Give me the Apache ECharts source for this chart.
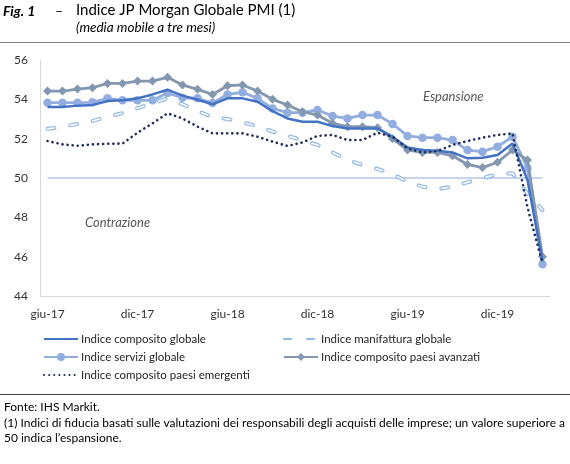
<!DOCTYPE html>
<html><head><meta charset="utf-8">
<script src="https://cdn.jsdelivr.net/npm/echarts@6/dist/echarts.min.js"></script>
<style>html,body{margin:0;padding:0;background:#fff}#c{width:570px;height:464px}</style>
</head><body><div id="c"></div>
<script>
const categories = ['giu-17','lug-17','ago-17','set-17','ott-17','nov-17','dic-17','gen-18','feb-18','mar-18','apr-18','mag-18','giu-18','lug-18','ago-18','set-18','ott-18','nov-18','dic-18','gen-19','feb-19','mar-19','apr-19','mag-19','giu-19','lug-19','ago-19','set-19','ott-19','nov-19','dic-19','gen-20','feb-20','mar-20'];
const compositoGlobale = [53.61,53.61,53.68,53.71,53.91,53.95,54.05,54.25,54.49,54.19,53.98,53.75,54.05,54.05,53.88,53.40,53.03,52.86,52.86,52.64,52.52,52.52,52.52,52.10,51.55,51.42,51.39,51.30,51.00,51.03,51.17,51.76,49.90,45.75];
const manifatturaGlobale = [52.50,52.60,52.75,52.90,53.10,53.30,53.55,53.80,54.05,53.75,53.40,53.10,53.00,52.83,52.64,52.36,52.14,51.93,51.68,51.30,50.92,50.66,50.46,50.20,49.81,49.56,49.44,49.56,49.78,50.00,50.19,50.24,49.20,48.37];
const serviziGlobale = [53.83,53.83,53.83,53.85,54.05,53.95,53.95,53.95,54.32,54.08,54.05,53.81,54.25,54.36,54.05,53.54,53.32,53.32,53.46,53.15,53.03,53.20,53.20,52.75,52.14,52.05,52.05,51.93,51.42,51.34,51.59,52.10,50.50,45.61];
const compositoAvanzati = [54.42,54.42,54.52,54.59,54.81,54.81,54.93,54.93,55.12,54.73,54.51,54.25,54.69,54.73,54.42,54.00,53.71,53.37,53.20,52.78,52.61,52.61,52.56,52.00,51.42,51.30,51.30,51.13,50.69,50.53,50.80,51.42,50.92,46.00];
const compositoEmergenti = [51.88,51.71,51.64,51.71,51.74,51.75,52.30,52.78,53.29,53.03,52.61,52.27,52.27,52.27,52.10,51.85,51.63,51.81,52.14,52.19,51.93,51.93,52.30,52.10,51.50,51.30,51.37,51.68,51.88,52.05,52.19,52.27,48.50,45.65];
const soglia = categories.map(() => 50);
const yTicks = {min: 44, max: 56, interval: 2};

const FONT = 'Lato';
const chart = echarts.init(document.getElementById('c'), null, {renderer: 'canvas'});
function legendAt(name, left, top, hideSymbol) {
  const l = {data: [name], left: left, top: top, padding: 0, itemWidth: 34, itemHeight: 10, itemGap: 0,
    textStyle: {fontFamily: FONT, fontSize: 11.5, color: '#262626', padding: [0, 0, 0, -2]}, selectedMode: false};
  if (hideSymbol) l.itemStyle = {opacity: 0};
  return l;
}
chart.setOption({
  animation: false,
  backgroundColor: '#fff',
  grid: {left: 40, right: 20, top: 60, bottom: 168, containLabel: false},
  xAxis: {
    type: 'category', data: categories, boundaryGap: true,
    axisLine: {lineStyle: {color: '#d9d9d9', width: 1}},
    axisTick: {interval: 5, length: 5, lineStyle: {color: '#d9d9d9'}},
    axisLabel: {interval: 5, margin: 12, fontFamily: FONT, fontSize: 12, color: '#333'}
  },
  yAxis: {
    type: 'value', min: yTicks.min, max: yTicks.max, interval: yTicks.interval,
    axisLine: {show: true, lineStyle: {color: '#d9d9d9'}},
    axisTick: {show: false}, splitLine: {show: false},
    axisLabel: {margin: 12, fontFamily: FONT, fontSize: 12, color: '#333'}
  },
  legend: [
    legendAt('Indice composito globale', 43, 333, true),
    legendAt('Indice manifattura globale', 283, 333, true),
    legendAt('Indice servizi globale', 43, 351, false),
    legendAt('Indice composito paesi avanzati', 283, 351, false),
    legendAt('Indice composito paesi emergenti', 43, 369, true)
  ],
  series: [
    {name: 'soglia', type: 'line', data: soglia, symbol: 'none', silent: true, z: 1,
      lineStyle: {color: '#b4c7e7', width: 1.5}},
    {name: 'Indice manifattura globale', type: 'line', data: manifatturaGlobale, symbol: 'none', z: 2,
      lineStyle: {color: '#8fb8e6', width: 4, type: [7, 16], cap: 'round'}, itemStyle: {color: '#8fb8e6'}},
    {name: 'manifattura-interno', type: 'line', data: manifatturaGlobale, symbol: 'none', z: 3, silent: true,
      lineStyle: {color: '#ffffff', width: 1.6, type: [7, 16], cap: 'round'}},
    {name: 'Indice servizi globale', type: 'line', data: serviziGlobale, symbol: 'circle', symbolSize: 8.5, z: 4,
      lineStyle: {color: '#92aee0', width: 2.8}, itemStyle: {color: '#92aee0'}},
    {name: 'Indice composito paesi avanzati', type: 'line', data: compositoAvanzati, symbol: 'diamond', symbolSize: 9, z: 5,
      lineStyle: {color: '#8497b0', width: 2.8}, itemStyle: {color: '#8497b0'}},
    {name: 'Indice composito globale', type: 'line', data: compositoGlobale, symbol: 'none', z: 6,
      lineStyle: {color: '#4472c4', width: 2.5}, itemStyle: {color: '#4472c4'}},
    {name: 'Indice composito paesi emergenti', type: 'line', data: compositoEmergenti, symbol: 'none', z: 7,
      lineStyle: {color: '#1f2d5c', width: 2.6, type: [0.1, 5], cap: 'round'}, itemStyle: {color: '#1f2d5c'}}
  ],
  graphic: [
    {type: 'text', left: 3, top: 4, style: {text: 'Fig. 1', font: 'italic bold 14px ' + FONT, fill: '#000'}},
    {type: 'text', left: 55, top: 4, style: {text: '–', font: '14px ' + FONT, fill: '#000'}},
    {type: 'text', left: 76, top: 3, style: {text: 'Indice JP Morgan Globale PMI (1)', font: '15px ' + FONT, fill: '#000'}},
    {type: 'text', left: 76, top: 21, style: {text: '(media mobile a tre mesi)', font: 'italic 13.5px ' + FONT, fill: '#000'}},
    {type: 'line', shape: {x1: 0, y1: 42.5, x2: 570, y2: 42.5}, style: {stroke: '#7f7f7f', lineWidth: 1}},
    {type: 'text', left: 423, top: 90, style: {text: 'Espansione', font: 'italic 13px ' + FONT, fill: '#595959'}},
    {type: 'text', left: 85, top: 216, style: {text: 'Contrazione', font: 'italic 13px ' + FONT, fill: '#595959'}},
    {type: 'line', shape: {x1: 0, y1: 394.5, x2: 570, y2: 394.5}, style: {stroke: '#404040', lineWidth: 1}},
    {type: 'text', left: 4, top: 401, style: {text: 'Fonte: IHS Markit.', font: '12px ' + FONT, fill: '#000'}},
    {type: 'text', left: 4, top: 417, style: {text: '(1) Indici di fiducia basati sulle valutazioni dei responsabili degli acquisti delle imprese; un valore superiore a', font: '12px ' + FONT, fill: '#000'}},
    {type: 'text', left: 4, top: 432, style: {text: '50 indica l’espansione.', font: '12px ' + FONT, fill: '#000'}}
  ]
});
</script></body></html>
